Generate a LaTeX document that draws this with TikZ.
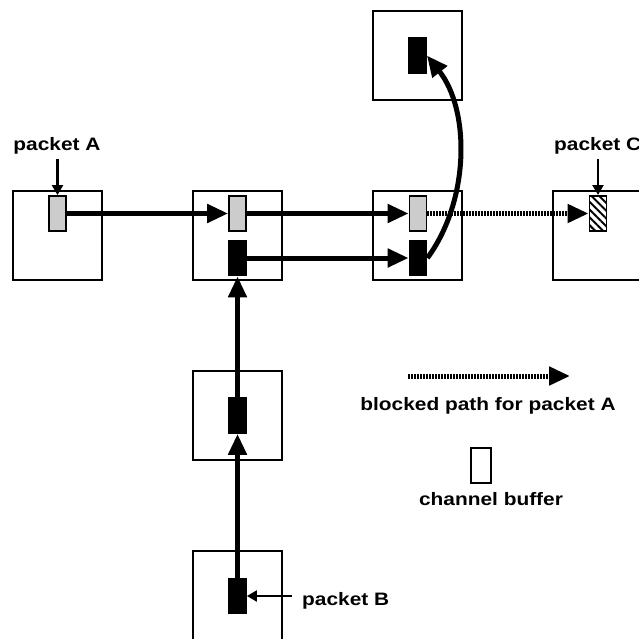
\documentclass[tikz,border=0pt]{standalone}
\usepackage{fontspec}
\newfontfamily\lab{Liberation Sans Bold}[FakeStretch=1.16]
\usetikzlibrary{arrows.meta,patterns.meta}
\begin{document}
\begin{tikzpicture}[x=1pt,y=-1pt,
  router/.style={draw,line width=2pt,minimum width=89pt,minimum height=89pt,inner sep=0pt},
  buf/.style={draw,line width=1.8pt,minimum width=17pt,minimum height=35pt,inner sep=0pt},
  bufA/.style={buf,fill=black!20},
  bufB/.style={buf,fill=black},
  bufC/.style={buf,fill=white,pattern={Lines[angle=-45,distance=5.5pt,line width=2pt]}},
  flow/.style={line width=5pt,-{Triangle[length=21pt,width=18pt]}},
  blocked/.style={line width=5pt,dash pattern=on 1.5pt off 1.5pt,-{Triangle[length=21pt,width=18pt]}},
  thin/.style={line width=2.2pt,-{Triangle[length=10pt,width=11pt]}},
  txt/.style={font=\lab\fontsize{18}{21}\selectfont,inner sep=0pt}]
\useasboundingbox (0,0) rectangle (639,639);
\clip (0,0) rectangle (639,639);
\fill[white] (0,0) rectangle (639,639);
% routers
\node[router] (r1) at (57.5,235.5) {};
\node[router] (r2) at (237.5,235.5) {};
\node[router] (r3) at (417.5,235.5) {};
\node[router] (r4) at (597.5,235.5) {};
\node[router] (rT) at (417.5,55.5) {};
\node[router] (rM) at (237.5,415) {};
\node[router] (rB) at (237.5,595) {};
% buffers
\node[bufA] (a1) at (57.5,213.5) {};
\node[bufA] (a2) at (237.5,213.5) {};
\node[bufA] (a3) at (418,213.5) {};
\node[bufC] (c4) at (598,213.5) {};
\node[bufB] (b2) at (237.5,258) {};
\node[bufB] (b3) at (418,258) {};
\node[bufB] (bT) at (417.5,55.5) {};
\node[bufB] (bM) at (237.5,415.5) {};
\node[bufB] (bB) at (237.5,596) {};
% flows
\draw[flow] (a1.east) -- (a2.west);
\draw[flow] (a2.east) -- (a3.west);
\draw[blocked] (a3.east) -- (c4.west);
\draw[flow] (b2.east) -- (b3.west);
\draw[flow] (bB.north) -- (bM.south);
\draw[flow] (bM.north) -- (b2.south);
\draw[flow] (b3.east) .. controls (470,200) and (470,110) .. (bT.east);
% labels
\node[txt,anchor=base] (lA) at (57,150) {packet A};
\coordinate (lAt) at (57.5,159);
\draw[thin] (lAt) -- (a1.north);
\node[txt,anchor=base west] (lC) at (554,150) {packet C};
\coordinate (lCt) at (598,159);
\draw[thin] (lCt) -- (c4.north);
\node[txt,anchor=base west] (lB) at (302,605) {packet B};
\coordinate (lBt) at (292,596);
\draw[thin] (lBt) -- (bB.east);
% legend
\coordinate (lg1) at (408,376);
\coordinate (lg2) at (570,376);
\draw[blocked] (lg1) -- (lg2);
\node[txt,anchor=base] (lgt) at (488,410) {blocked path for packet A};
\node[draw,line width=1.5pt,minimum width=20pt,minimum height=35pt,inner sep=0pt] (lgb) at (481,465.5) {};
\node[txt,anchor=base] (lgbt) at (491,505) {channel buffer};
\end{tikzpicture}
\end{document}
